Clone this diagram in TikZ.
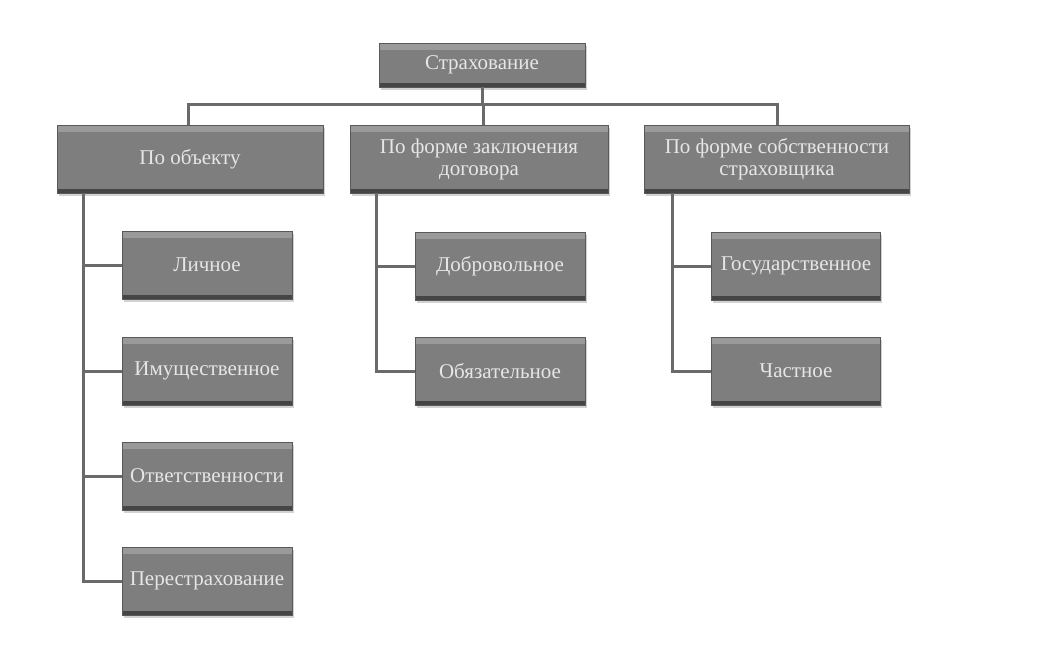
\documentclass[tikz,border=0pt]{standalone}
\usepackage{fontspec}
\setmainfont{Liberation Serif}
\usetikzlibrary{shadows}
\definecolor{boxgray}{HTML}{7E7E7E}
\definecolor{txtgray}{HTML}{E6E6E6}
\definecolor{linegray}{HTML}{6A6A6A}
\tikzset{
  x=1pt, y=-1pt,
  box/.style={rectangle, fill=boxgray, draw=black!65, line width=0.6pt,
    text=txtgray, font=\fontsize{21}{22}\selectfont, align=center,
    inner sep=1pt,
    drop shadow={opacity=0.35, shadow xshift=1.5pt, shadow yshift=-2.5pt},
    path picture={
      \fill[white,opacity=0.22] (path picture bounding box.north west) rectangle ([yshift=-7pt]path picture bounding box.north east);
      \fill[black,opacity=0.45] (path picture bounding box.south west) rectangle ([yshift=4pt]path picture bounding box.south east);
    }},
  conn/.style={draw=linegray, line width=3pt},
}
\begin{document}
\begin{tikzpicture}
\useasboundingbox[fill=white] (0,0) rectangle (1048,654);
\node[box, minimum width=206pt, minimum height=44pt] (root) at (482,65) {Страхование};
\node[box, minimum width=266pt, minimum height=68pt] (A) at (190,159) {По объекту};
\node[box, minimum width=258pt, minimum height=68pt] (B) at (479,159) {По форме заключения\\договора};
\node[box, minimum width=265pt, minimum height=68pt] (C) at (777,159) {По форме собственности\\страховщика};

\node[box, minimum width=170pt, minimum height=68pt] (a1) at (207,265) {Личное};
\node[box, minimum width=170pt, minimum height=68pt] (a2) at (207,371) {Имущественное};
\node[box, minimum width=170pt, minimum height=68pt] (a3) at (207,476) {Ответственности};
\node[box, minimum width=170pt, minimum height=68pt] (a4) at (207,581) {Перестрахование};

\node[box, minimum width=170pt, minimum height=68pt] (b1) at (500,266) {Добровольное};
\node[box, minimum width=170pt, minimum height=68pt] (b2) at (500,371) {Обязательное};

\node[box, minimum width=169pt, minimum height=68pt] (c1) at (796,266) {Государственное};
\node[box, minimum width=169pt, minimum height=68pt] (c2) at (796,371) {Частное};

\coordinate (hub) at (482,104);
\draw[conn] (root.south) -- (hub);
\draw[conn] (hub) -| ([xshift=-2pt]A.north);
\draw[conn] (hub) -| ([xshift=4pt]B.north);
\draw[conn] (hub) -- (C.north |- hub) -- (C.north);

\draw[conn] ([xshift=27pt]A.south west) |- (a1.west);
\draw[conn] ([xshift=27pt]A.south west) |- (a2.west);
\draw[conn] ([xshift=27pt]A.south west) |- (a3.west);
\draw[conn] ([xshift=27pt]A.south west) |- (a4.west);

\draw[conn] ([xshift=27pt]B.south west) |- (b1.west);
\draw[conn] ([xshift=27pt]B.south west) |- (b2.west);

\draw[conn] ([xshift=28pt]C.south west) |- (c1.west);
\draw[conn] ([xshift=28pt]C.south west) |- (c2.west);
\end{tikzpicture}
\end{document}
